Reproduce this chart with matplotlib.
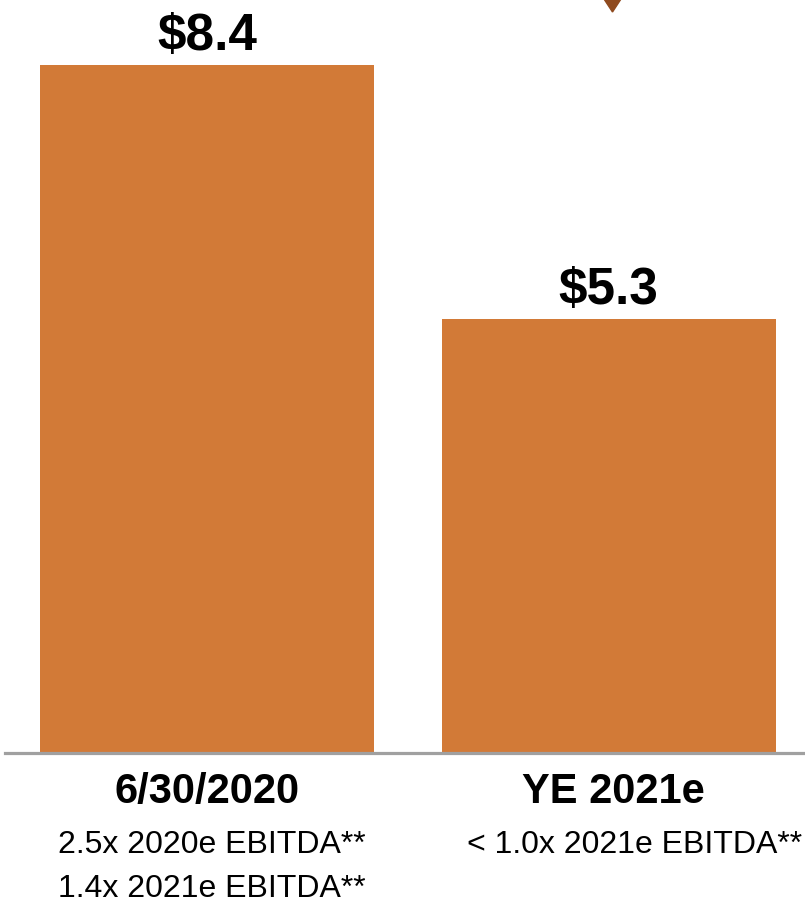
import matplotlib.pyplot as plt
from matplotlib.patches import Polygon

plt.rcParams['font.family'] = ['Liberation Sans', 'DejaVu Sans']

# net debt, $ billions
periods = ['6/30/2020', 'YE 2021e']
debt = [8.4, 5.3]
value_labels = ['$8.4', '$5.3']
leverage_notes = [
    ['2.5x 2020e EBITDA**', '1.4x 2021e EBITDA**'],
    ['< 1.0x 2021e EBITDA**'],
]

BAR_COLOR = '#D27A37'
ARROW_COLOR = '#8F4A1E'

fig = plt.figure(figsize=(8.05, 9.07), dpi=100)
ax = fig.add_axes([5 / 805, 154 / 907, 800 / 805, 753 / 907])

x = list(range(len(periods)))
bars = ax.bar(x, debt, width=0.832, color=BAR_COLOR)

ax.set_xlim(-0.503, 1.489)
ax.set_ylim(0, 9.19)

# only the baseline is kept
for side in ['top', 'right', 'left']:
    ax.spines[side].set_visible(False)
ax.spines['bottom'].set_color('#A0A0A0')
ax.spines['bottom'].set_linewidth(2.3)
ax.set_xticks([])
ax.set_yticks([])

# values above the bars
for xi, v, lab in zip(x, debt, value_labels):
    ax.annotate(lab, xy=(xi, v), xytext=(0, 15), textcoords='offset pixels',
                ha='center', va='baseline', fontsize=37, fontweight='bold')

# period labels and leverage notes under the baseline
name_shift = [0, 5]
note_shift = [5, 26]
for xi, name, notes, nx, dx in zip(x, periods, leverage_notes, name_shift, note_shift):
    ax.annotate(name, xy=(xi, 0), xycoords=('data', 'axes fraction'),
                xytext=(nx, -39), textcoords='offset pixels',
                ha='center', va='center', fontsize=30, fontweight='bold',
                annotation_clip=False)
    for k, note in enumerate(notes):
        ax.annotate(note, xy=(xi, 0), xycoords=('data', 'axes fraction'),
                    xytext=(dx, -92 - 44 * k), textcoords='offset pixels',
                    ha='center', va='center', fontsize=23,
                    annotation_clip=False)

# tip of the downward arrow at the top edge
W, H = 805, 907
tip = Polygon([(604 / W, 1 + 1 / H), (621 / W, 1 + 1 / H), (612.5 / W, 1 - 12 / H)],
              closed=True, transform=fig.transFigure, color=ARROW_COLOR)
fig.patches.append(tip)

fig.savefig('out.png', dpi=100, facecolor='white')
